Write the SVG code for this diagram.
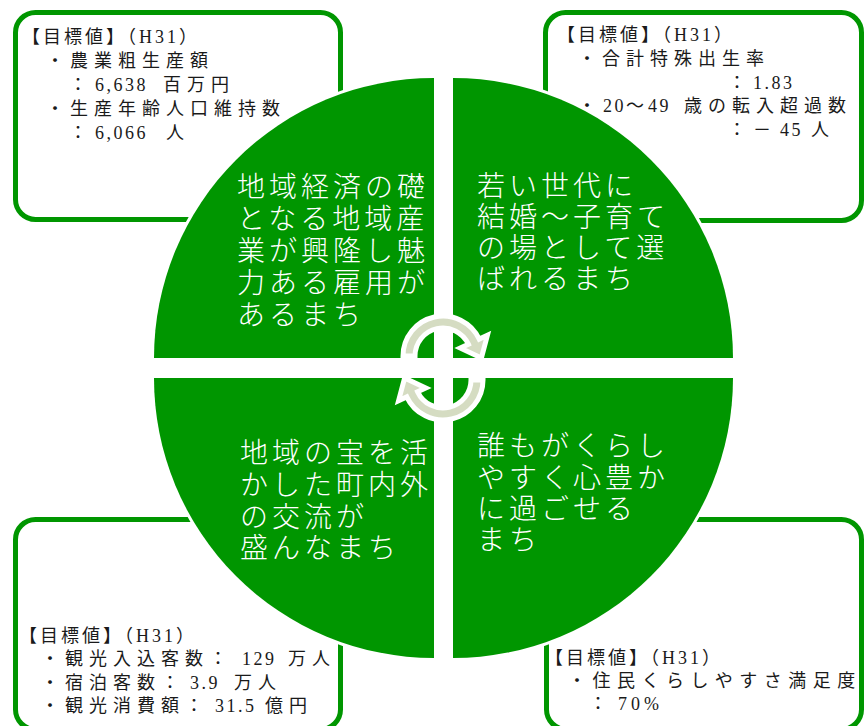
<svg xmlns="http://www.w3.org/2000/svg" width="864" height="726" viewBox="0 0 864 726">
<style>
.box{fill:#ffffff;stroke:#009600;stroke-width:5}
.q{fill:#009600;stroke:#ffffff;stroke-width:6;paint-order:stroke}
.qt{font-family:"Noto Sans CJK JP","Noto Sans",sans-serif;font-size:28px;font-weight:300;fill:#ffffff;letter-spacing:4px}
.bt{font-family:"Liberation Serif","Noto Sans CJK JP",serif;font-size:18px;fill:#1a1a1a}
.h{letter-spacing:3px}
.j{letter-spacing:6px}
.n{letter-spacing:2.5px}
.arr{fill:#d5dcc2;stroke:#ffffff;stroke-width:5;stroke-linejoin:miter}
</style>
<rect width="864" height="726" fill="#ffffff"/>
<g id="target-tl">
<rect class="box" x="15.5" y="12.5" width="325" height="207" rx="20"/>
<text class="bt h" x="22" y="43">【目標値】（H31）</text>
<text class="bt j" x="46" y="67">・農業粗生産額</text>
<text class="bt" y="91"><tspan x="69">：</tspan><tspan class="n" x="95">6,638</tspan><tspan class="j" x="163">百万円</tspan></text>
<text class="bt j" x="46" y="115">・生産年齢人口維持数</text>
<text class="bt" y="139"><tspan x="69">：</tspan><tspan class="n" x="95">6,066</tspan><tspan x="166">人</tspan></text>
</g>
<g id="target-tr">
<rect class="box" x="545.5" y="12.5" width="316" height="208" rx="20"/>
<text class="bt h" x="557" y="41">【目標値】（H31）</text>
<text class="bt j" x="578" y="65">・合計特殊出生率</text>
<text class="bt" y="89"><tspan x="728">：</tspan><tspan class="n" x="753">1.83</tspan></text>
<text class="bt" y="112"><tspan x="578">・</tspan><tspan class="n" x="603">20</tspan><tspan x="626">～</tspan><tspan class="n" x="648">49</tspan><tspan class="j" x="684">歳の転入超過数</tspan></text>
<text class="bt" y="136"><tspan x="728">：</tspan><tspan x="753">－</tspan><tspan class="n" x="780">45</tspan><tspan x="811">人</tspan></text>
</g>
<g id="target-bl">
<rect class="box" x="15.5" y="519.5" width="325" height="210" rx="20"/>
<text class="bt h" x="19" y="642">【目標値】（H31）</text>
<text class="bt" y="665"><tspan class="j" x="41">・観光入込客数：</tspan><tspan class="n" x="242">129</tspan><tspan class="j" x="288">万人</tspan></text>
<text class="bt" y="689"><tspan class="j" x="41">・宿泊客数：</tspan><tspan class="n" x="190">3.9</tspan><tspan class="j" x="234">万人</tspan></text>
<text class="bt" y="712"><tspan class="j" x="41">・観光消費額：</tspan><tspan class="n" x="215">31.5</tspan><tspan class="j" x="265">億円</tspan></text>
</g>
<g id="target-br">
<rect class="box" x="546.5" y="519.5" width="315" height="210" rx="20"/>
<text class="bt h" x="545" y="664">【目標値】（H31）</text>
<text class="bt" x="568" y="687" style="letter-spacing:6.5px">・住民くらしやすさ満足度</text>
<text class="bt" y="710"><tspan x="589">：</tspan><tspan x="618" style="letter-spacing:4px">70%</tspan></text>
</g>
<g id="quadrant-tl">
<path class="q" d="M434,358 L154,358 A280,280 0 0,1 434,78 Z"/>
<text class="qt"><tspan x="237" y="197">地域経済の礎</tspan><tspan x="237" y="229">となる地域産</tspan><tspan x="237" y="261">業が興隆し魅</tspan><tspan x="237" y="293">力ある雇用が</tspan><tspan x="237" y="325">あるまち</tspan></text>
</g>
<g id="quadrant-tr">
<path class="q" d="M453,358 L453,78 A280,280 0 0,1 733,358 Z"/>
<text class="qt"><tspan x="477" y="196">若い世代に</tspan><tspan x="477" y="227">結婚～子育て</tspan><tspan x="477" y="258">の場として選</tspan><tspan x="477" y="289">ばれるまち</tspan></text>
</g>
<g id="quadrant-bl">
<path class="q" d="M434,378 L434,658 A280,280 0 0,1 154,378 Z"/>
<text class="qt"><tspan x="240" y="463">地域の宝を活</tspan><tspan x="240" y="495">かした町内外</tspan><tspan x="240" y="527">の交流が</tspan><tspan x="240" y="558">盛んなまち</tspan></text>
</g>
<g id="quadrant-br">
<path class="q" d="M453,378 L733,378 A280,280 0 0,1 453,658 Z"/>
<text class="qt"><tspan x="477" y="456">誰もがくらし</tspan><tspan x="477" y="488">やすく心豊か</tspan><tspan x="477" y="519">に過ごせる</tspan><tspan x="477" y="550">まち</tspan></text>
</g>
<g id="connectors">
<path id="cycle-arrow-top" class="arr" d="M403,356 A40,40 0 0,1 479.25,339.1 L487.41,335.29 L481.4,357.9 L460.22,347.97 L468.38,344.17 A28,28 0 0,0 415,356 Z"/>
<path id="cycle-arrow-bottom" class="arr" transform="rotate(180 443 368)" d="M403,356 A40,40 0 0,1 479.25,339.1 L487.41,335.29 L481.4,357.9 L460.22,347.97 L468.38,344.17 A28,28 0 0,0 415,356 Z"/>
</g>
</svg>
